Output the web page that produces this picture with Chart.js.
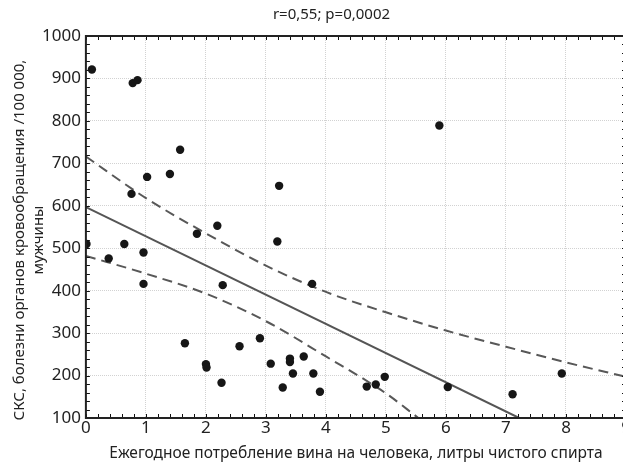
<!DOCTYPE html>
<html>
<head>
<meta charset="utf-8">
<script src="https://cdn.jsdelivr.net/npm/chart.js@4"></script>
<style>
  html, body { margin: 0; padding: 0; background: #fff; overflow: hidden; }
  #wrap { width: 640px; height: 468px; }
</style>
</head>
<body>
<div id="wrap"><canvas id="chart"></canvas></div>
<script>
// wine consumption (x) vs. circulatory mortality (y), one point per region
const wineX = [0.01, 0.1, 0.38, 0.64, 0.78, 0.86, 0.76, 0.96, 0.96, 1.02, 1.4, 1.57, 1.65, 1.85,
    2.0, 2.01, 2.19, 2.28, 2.26, 2.56, 2.9, 3.08, 3.19, 3.22, 3.28, 3.4, 3.4, 3.45, 3.63,
    3.79, 3.77, 3.9, 4.68, 4.83, 4.98, 5.89, 6.03, 7.11, 7.93];
const deathsY = [510, 921, 476, 510, 889, 896, 628, 490, 416, 668, 675, 732, 276, 534,
    227, 219, 553, 413, 183, 269, 288, 228, 516, 647, 172, 240, 232, 205, 245,
    205, 416, 162, 174, 179, 197, 789, 173, 156, 205];

// regression line
const fitX = [0, 7.22];
const fitY = [597, 100];

// confidence band
const upperX = [0, 1, 2, 3, 4, 5, 6, 7, 8, 9];
const upperY = [716, 618, 535, 459, 397, 349, 306, 268, 231, 197];
const lowerX = [0, 1, 2, 3, 4, 5, 5.54];
const lowerY = [482, 440, 393, 328, 245, 158, 100];

const xTicks = [0, 1, 2, 3, 4, 5, 6, 7, 8, 9];
const yTicks = [100, 200, 300, 400, 500, 600, 700, 800, 900, 1000];

const yTitle = ['СКС, болезни органов кровообращения /100 000,', 'мужчины'];

const toPoints = (xs, ys) => xs.map((x, i) => ({ x: x, y: ys[i] }));

// frame, small inward ticks and the two-line y title
const framePlugin = {
    id: 'frame',
    afterDraw(chart) {
        const { ctx, chartArea: a, scales } = chart;
        ctx.save();
        ctx.strokeStyle = '#111';
        ctx.lineWidth = 1;
        ctx.beginPath();
        for (let v = 0; v <= 9.001; v += 0.2) {
            const px = Math.round(scales.x.getPixelForValue(v)) + 0.5;
            ctx.moveTo(px, a.bottom); ctx.lineTo(px, a.bottom - 4);
            ctx.moveTo(px, a.top); ctx.lineTo(px, a.top + 4);
        }
        for (let v = 100; v <= 1000; v += 20) {
            const py = Math.round(scales.y.getPixelForValue(v)) + 0.5;
            ctx.moveTo(a.left, py); ctx.lineTo(a.left + 4, py);
            ctx.moveTo(a.right, py); ctx.lineTo(a.right - 4, py);
        }
        ctx.stroke();
        ctx.lineWidth = 2;
        ctx.strokeStyle = '#222';
        ctx.strokeRect(a.left, a.top, a.right - a.left, a.bottom - a.top);

        ctx.translate(0, (a.top + a.bottom) / 2 + 13);
        ctx.rotate(-Math.PI / 2);
        ctx.fillStyle = '#222';
        ctx.font = '15px "Noto Sans"';
        ctx.textAlign = 'center';
        ctx.textBaseline = 'middle';
        ctx.fillText(yTitle[0], 0, 20);
        ctx.fillText(yTitle[1], 0, 39);
        ctx.restore();
    }
};

const lineStyle = {
    showLine: true,
    pointRadius: 0,
    fill: false,
    cubicInterpolationMode: 'monotone'
};

new Chart(document.getElementById('chart').getContext('2d'), {
    type: 'scatter',
    data: {
        datasets: [
            {
                label: 'points',
                data: toPoints(wineX, deathsY),
                pointRadius: 4.2,
                pointBackgroundColor: '#161616',
                pointBorderWidth: 0,
                order: 0
            },
            Object.assign({
                label: 'fit',
                data: toPoints(fitX, fitY),
                borderColor: '#555',
                borderWidth: 2,
                order: 1
            }, lineStyle),
            Object.assign({
                label: 'upper',
                data: toPoints(upperX, upperY),
                borderColor: '#585858',
                borderWidth: 2,
                borderDash: [10, 6],
                order: 1
            }, lineStyle),
            Object.assign({
                label: 'lower',
                data: toPoints(lowerX, lowerY),
                borderColor: '#585858',
                borderWidth: 2,
                borderDash: [10, 6],
                order: 1
            }, lineStyle)
        ]
    },
    options: {
        responsive: true,
        maintainAspectRatio: false,
        animation: false,
        layout: { padding: { left: 37, right: 14, top: 0, bottom: 5 } },
        plugins: {
            legend: { display: false },
            tooltip: { enabled: false },
            title: {
                display: true,
                text: 'r=0,55; p=0,0002',
                color: '#222',
                font: { family: 'Noto Sans', size: 15, weight: 'normal' },
                padding: { top: 6, bottom: 12 }
            }
        },
        scales: {
            x: {
                type: 'linear',
                min: 0,
                max: 9,
                afterBuildTicks: scale => { scale.ticks = xTicks.map(v => ({ value: v })); },
                ticks: {
                    color: '#222',
                    font: { family: 'Noto Sans', size: 17 },
                    padding: 0,
                    maxRotation: 0,
                    callback: v => String(v)
                },
                grid: { color: '#d2d2d2', lineWidth: 1, drawTicks: false },
                border: { display: false, dash: [1, 1] },
                title: {
                    display: true,
                    text: 'Ежегодное потребление вина на человека, литры чистого спирта',
                    color: '#222',
                    font: { family: 'Noto Sans', size: 15.5 },
                    padding: { top: 6, bottom: 0 }
                }
            },
            y: {
                type: 'linear',
                min: 100,
                max: 1000,
                afterBuildTicks: scale => { scale.ticks = yTicks.map(v => ({ value: v })); },
                ticks: {
                    color: '#222',
                    font: { family: 'Noto Sans', size: 17 },
                    padding: 5,
                    callback: v => String(v)
                },
                grid: { color: '#d2d2d2', lineWidth: 1, drawTicks: false },
                border: { display: false, dash: [1, 1] }
            }
        }
    },
    plugins: [framePlugin]
});
</script>
</body>
</html>
